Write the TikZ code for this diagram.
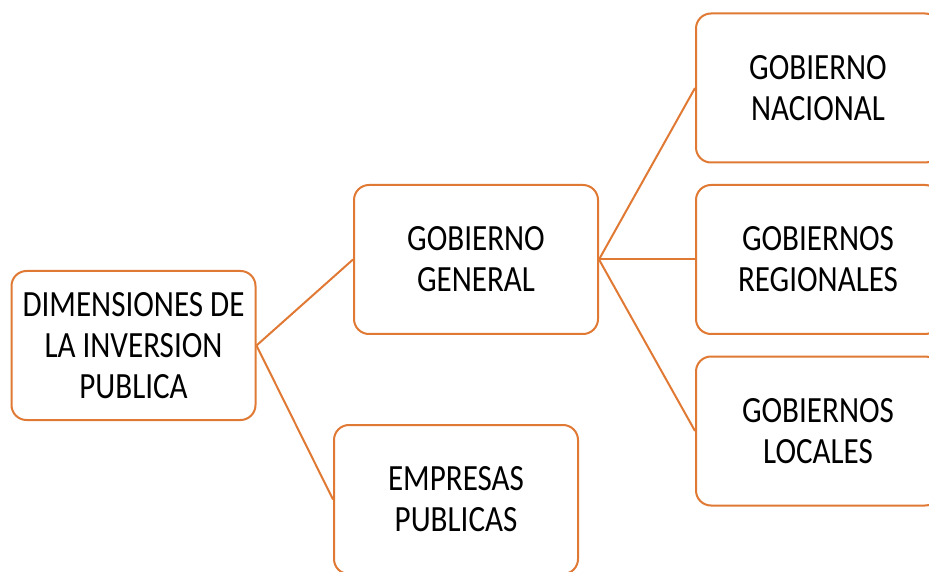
\documentclass[tikz,border=0pt]{standalone}
\usepackage{fontspec}
\setmainfont{Carlito}[FakeStretch=0.84]
\definecolor{naranja}{RGB}{224,121,52}
\tikzset{
    caja/.style={draw=naranja, line width=2pt, rounded corners=15pt, fill=white,
        minimum width=244pt, minimum height=149pt, inner sep=0pt, align=center,
        font=\fontsize{37}{41}\selectfont},
    rama/.style={draw=naranja, line width=2pt}
}
\begin{document}
\begin{tikzpicture}[x=1pt,y=1pt]
    \clip (0,0) rectangle (929,571);
    \useasboundingbox (0,0) rectangle (929,571);
    % 节点
    \node[caja] (dim) at (133.5,225.5) {DIMENSIONES DE\\LA INVERSION\\PUBLICA};
    \node[caja] (gen) at (476,311.5) {GOBIERNO\\GENERAL};
    \node[caja] (emp) at (456,71.5) {EMPRESAS\\PUBLICAS};
    \node[caja] (nac) at (818,483) {GOBIERNO\\NACIONAL};
    \node[caja] (reg) at (818,311.5) {GOBIERNOS\\REGIONALES};
    \node[caja] (loc) at (818,140) {GOBIERNOS\\LOCALES};
    % 连线
    \draw[rama] (dim.east) -- (gen.west);
    \draw[rama] (dim.east) -- (emp.west);
    \draw[rama] (gen.east) -- (nac.west);
    \draw[rama] (gen.east) -- (reg.west);
    \draw[rama] (gen.east) -- (loc.west);
\end{tikzpicture}
\end{document}
